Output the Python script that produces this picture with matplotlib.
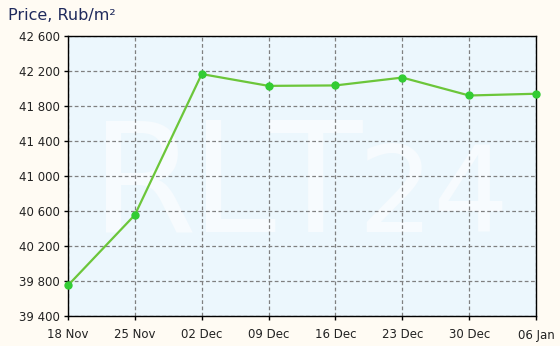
import matplotlib
matplotlib.use("Agg")
import matplotlib.pyplot as plt
import matplotlib.ticker as ticker

# weekly price, Rub/m2
dates = ["18 Nov", "25 Nov", "02 Dec", "09 Dec", "16 Dec", "23 Dec", "30 Dec", "06 Jan"]
prices = [39750, 40555, 42165, 42030, 42035, 42125, 41920, 41940]
yticks = [39400, 39800, 40200, 40600, 41000, 41400, 41800, 42200, 42600]

# watermark letters: (char, x in axes fraction, font size)
mark_chars = ["R", "L", "T", "2", "4"]
mark_x = [0.05, 0.262, 0.428, 0.617, 0.778]
mark_size = [110, 110, 110, 86, 86]

W, H = 560, 346
fig = plt.figure(figsize=(W / 100, H / 100), dpi=100, facecolor="#fffbf3")
ax = fig.add_axes([68 / W, 1 - 316 / H, 468 / W, 280 / H])
ax.set_facecolor("#ecf7fd")

for ch, xx, sz in zip(mark_chars, mark_x, mark_size):
    ax.text(xx, 0.30, ch, transform=ax.transAxes, fontsize=sz, color="#f7fbfe",
            ha="left", va="baseline", family="DejaVu Sans", fontweight="normal",
            zorder=0.2)

xs = list(range(len(dates)))
ax.plot(xs, prices, color="#6cc63a", linewidth=1.6, zorder=3, clip_on=False)
ax.plot(xs, prices, linestyle="none", marker="o", markersize=5,
        markerfacecolor="#33cc33", markeredgecolor="#33cc33", zorder=4, clip_on=False)

ax.set_xlim(0, len(dates) - 1)
ax.set_ylim(yticks[0], yticks[-1])
ax.set_xticks(xs)
ax.set_xticklabels(dates)
ax.set_yticks(yticks)
ax.yaxis.set_major_formatter(ticker.FuncFormatter(lambda v, p: "{:,}".format(int(v)).replace(",", " ")))

ax.set_axisbelow(True)
ax.grid(True, color="#808080", linestyle=(0, (3, 2)), linewidth=0.9)
for s in ax.spines.values():
    s.set_color("black")
    s.set_linewidth(1.0)

ax.tick_params(axis="both", direction="out", length=3, width=1, color="black",
               labelsize=8.5, labelcolor="#222222")
ax.tick_params(axis="x", pad=6)
ax.tick_params(axis="y", pad=3)

fig.text(8 / W, 1 - 20 / H, "Price, Rub/m²", fontsize=11.5, color="#1f2a5c",
         ha="left", va="baseline")

fig.savefig("out.png", dpi=100, facecolor=fig.get_facecolor())
